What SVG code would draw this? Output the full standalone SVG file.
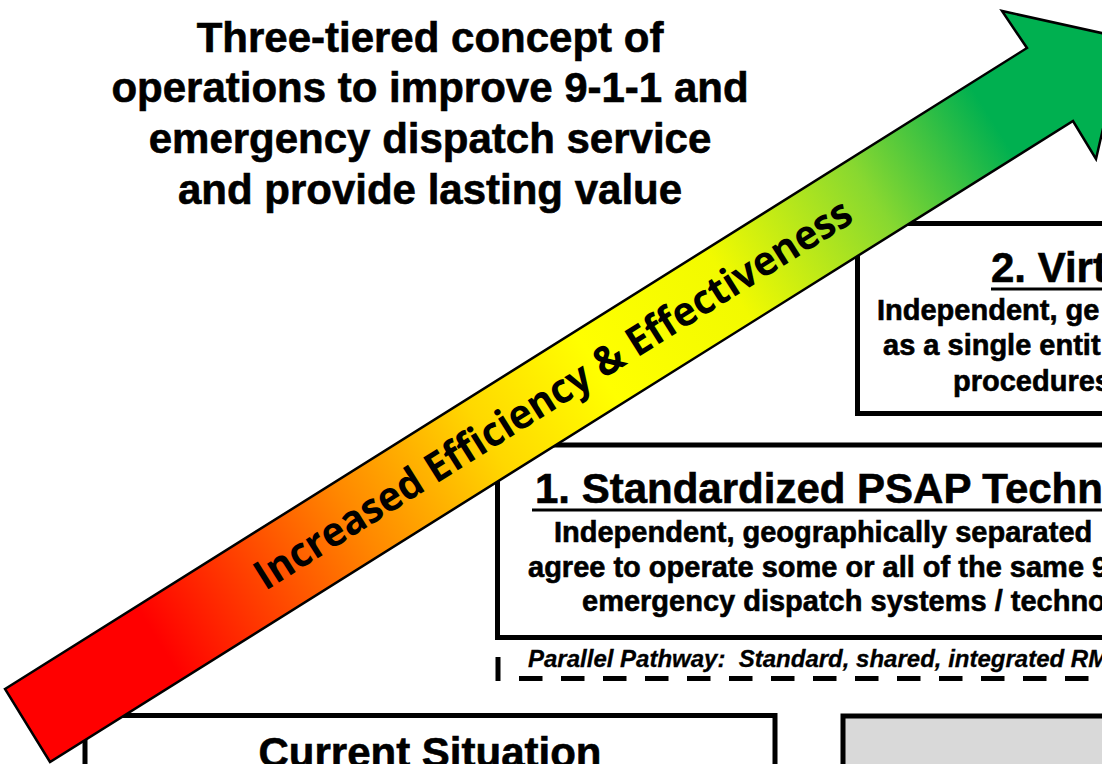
<svg xmlns="http://www.w3.org/2000/svg" width="1102" height="764" viewBox="0 0 1102 764">
  <style>
    .b{font-family:"Liberation Sans",Arial,sans-serif;font-weight:bold;fill:#000;stroke:#000;stroke-width:0.6}
    .ttl{font-size:42px}
    .hd{font-size:42px}
    .bd{font-size:29px}
    .pp{font-size:24px;font-style:italic;white-space:pre;stroke-width:0.3}
    .box{fill:#fff;stroke:#000;stroke-width:5}
    .ul{stroke:#000;stroke-width:3}
    .arrtxt{font-family:"Open Sans",Lato,sans-serif;font-weight:bold;font-size:41px;fill:#000}
  </style>
  <defs>
    <linearGradient id="grad" gradientUnits="userSpaceOnUse" x1="27.5" y1="725.5" x2="1124" y2="38">
      <stop offset="0" stop-color="#ff0000"/>
      <stop offset="0.12" stop-color="#ff0000"/>
      <stop offset="0.3" stop-color="#ff8800"/>
      <stop offset="0.42" stop-color="#ffd800"/>
      <stop offset="0.52" stop-color="#ffff00"/>
      <stop offset="0.64" stop-color="#f2fa00"/>
      <stop offset="0.77" stop-color="#88d830"/>
      <stop offset="0.88" stop-color="#00b050"/>
      <stop offset="1" stop-color="#00b050"/>
    </linearGradient>
  </defs>
  <rect width="1102" height="764" fill="#fff"/>

  <g id="title">
    <text class="b ttl" x="430" y="52" text-anchor="middle">Three-tiered concept of</text>
    <text class="b ttl" x="430" y="102" text-anchor="middle">operations to improve 9-1-1 and</text>
    <text class="b ttl" x="430" y="153" text-anchor="middle">emergency dispatch service</text>
    <text class="b ttl" x="430" y="204" text-anchor="middle">and provide lasting value</text>
  </g>

  <g id="tier2">
    <rect class="box" x="857.5" y="223.5" width="300" height="190"/>
    <text class="b hd" x="991" y="282">2. Virt</text>
    <line class="ul" x1="991" y1="289" x2="1102" y2="289"/>
    <text class="b bd" x="877" y="320">Independent, ge</text>
    <text class="b bd" x="883" y="355">as a single entit</text>
    <text class="b bd" x="953" y="391">procedures</text>
  </g>

  <g id="tier1">
    <rect class="box" x="497.5" y="445" width="700" height="192.5"/>
    <text class="b hd" x="535" y="503">1. Standardized PSAP Techn</text>
    <line class="ul" x1="532" y1="510" x2="1102" y2="510"/>
    <text class="b bd" x="554" y="542">Independent, geographically separated</text>
    <text class="b bd" x="528" y="577">agree to operate some or all of the same 9</text>
    <text class="b bd" x="582" y="611">emergency dispatch systems / techno</text>
  </g>

  <g id="parallel">
    <text class="b pp" x="528" y="667" xml:space="preserve">Parallel Pathway:  Standard, shared, integrated RM</text>
    <line x1="498" y1="657" x2="498" y2="681" stroke="#000" stroke-width="5"/>
    <line x1="519" y1="678.5" x2="1102" y2="678.5" stroke="#000" stroke-width="5" stroke-dasharray="23.5 18.5"/>
  </g>

  <g id="current">
    <rect class="box" x="85" y="715.5" width="690" height="80"/>
    <text class="b ttl" x="430" y="767" text-anchor="middle">Current Situation</text>
  </g>

  <g id="future">
    <rect x="843" y="716" width="300" height="80" fill="#d9d9d9" stroke="#000" stroke-width="5"/>
  </g>

  <g id="arrow">
    <polygon points="5,689 1027,48 1002,11 1124,38 1096,159 1073,121 50,762" fill="url(#grad)" stroke="#000" stroke-width="2.5" stroke-linejoin="miter"/>
    <text class="arrtxt" x="0" y="0" text-anchor="middle" textLength="697" lengthAdjust="spacingAndGlyphs" transform="translate(560.4,406) rotate(-32.1)">Increased Efficiency &amp; Effectiveness</text>
  </g>
</svg>
